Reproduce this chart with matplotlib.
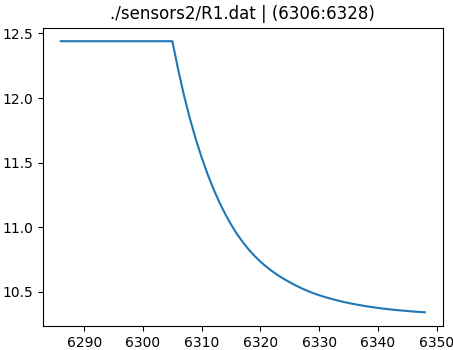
import numpy as np
import matplotlib
matplotlib.use("Agg")
import matplotlib.pyplot as plt

# sample index and sensor reading
t_start = 6286
flat_value = 12.44
flat_len = 20  # 6286 .. 6305
decay_values = [
    12.218, 12.018, 11.840, 11.681, 11.539, 11.411, 11.297, 11.194,
    11.103, 11.021, 10.948, 10.885, 10.828, 10.778, 10.734, 10.695,
    10.660, 10.628, 10.600, 10.574, 10.550, 10.528, 10.508, 10.490,
    10.474, 10.460, 10.447, 10.435, 10.424, 10.414, 10.405, 10.397,
    10.389, 10.382, 10.376, 10.370, 10.365, 10.360, 10.356, 10.352,
    10.348, 10.345, 10.342,
]
title = "./sensors2/R1.dat | (6306:6328)"

values = [flat_value] * flat_len + decay_values
times = np.arange(t_start, t_start + len(values))

fig = plt.figure(figsize=(4.53, 3.5), dpi=100)
ax = fig.add_subplot(111)
ax.plot(times, values)
ax.set_title(title)
fig.subplots_adjust(left=0.094, right=0.978, top=0.921, bottom=0.069)
fig.savefig("out.png")
